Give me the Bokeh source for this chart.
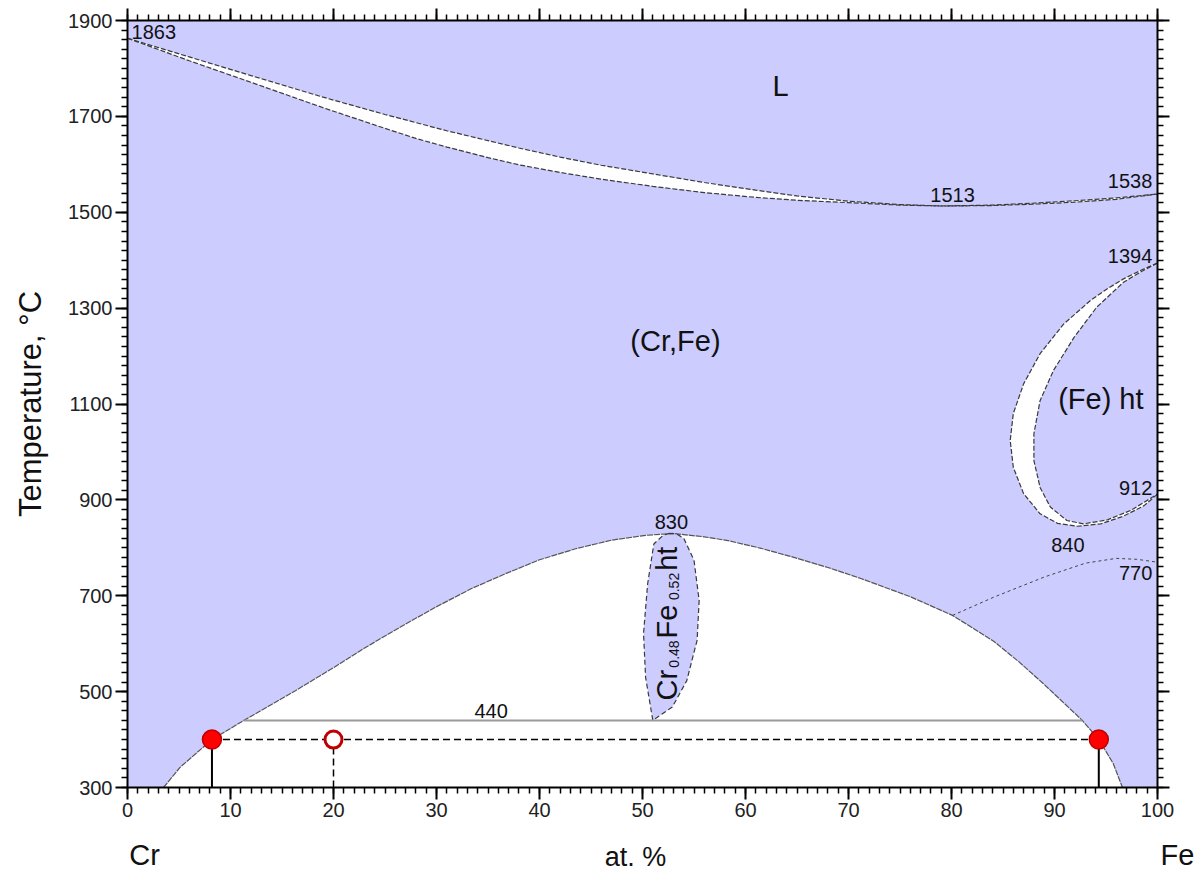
from math import pi

from bokeh.plotting import figure
from bokeh.layouts import column
from bokeh.models import LinearAxis, FixedTicker, Range1d
from bokeh.core.properties import value
from bokeh.embed import file_html
from bokeh.resources import INLINE

# ---------------------------------------------------------------- data
# Liquidus / solidus of the L <-> (Cr,Fe) lens (at.% Fe, deg C)
liq_x = [0, 6, 12, 19, 25, 31, 38, 42, 46, 51, 56, 61, 65, 70, 75, 79, 84, 88, 92, 96, 100]
liq_t = [1863, 1824, 1785, 1740, 1704, 1670, 1634, 1615, 1598, 1580, 1562, 1546, 1534, 1523, 1516, 1513, 1515, 1519, 1524, 1530, 1538]
sol_x = [0, 6, 12, 19, 25, 28, 31, 35, 38, 42, 46, 51, 56, 61, 65, 70, 75, 79, 84, 88, 92, 96, 100]
sol_t = [1863, 1816, 1771, 1718, 1675, 1654, 1636, 1614, 1599, 1583, 1569, 1554, 1541, 1531, 1525, 1520, 1515, 1513, 1514, 1517, 1521, 1527, 1538]

# gamma loop: outer (alpha+gamma / alpha) and inner (gamma) boundaries
gout_x = [100, 98.5, 96.7, 95.1, 93.5, 90.9, 88.6, 87.0, 86.0, 85.7, 86.0, 87.0, 88.6, 90.3, 92.2, 94.5, 96.7, 98.7, 100]
gout_t = [1394, 1380, 1361, 1340, 1316, 1267, 1205, 1142, 1080, 1024, 968, 913, 871, 851, 845, 850, 866, 888, 912]
gin_x = [100, 98.4, 96.7, 94.1, 91.9, 89.9, 88.6, 88.0, 88.0, 88.6, 89.6, 91.2, 92.8, 95.1, 97.4, 100]
gin_t = [1394, 1376, 1354, 1302, 1239, 1170, 1107, 1038, 982, 926, 885, 857, 850, 858, 878, 912]

# low-temperature two-phase dome
dome_x = [3.5, 5.1, 8.2, 11.3, 16.3, 19.7, 23.1, 26.5, 29.9, 33.3, 36.7, 40.0, 43.5, 47.0, 50.3, 52.9,
          56.0, 58.3, 61.5, 64.7, 68.0, 71.2, 76.0, 80.1, 84.1, 86.5, 88.9, 92.7, 94.3, 95.7, 96.6]
dome_t = [300, 342, 400, 440, 502, 546, 592, 635, 676, 714, 746, 775, 798, 816, 826, 830,
          823, 815, 799, 780, 759, 736, 698, 659, 605, 563, 517, 440, 400, 350, 300]

# Cr0.48Fe0.52 ht single-phase field
sig_x = [52.6, 53.3, 54.0, 55.0, 55.5, 55.3, 54.3, 52.9, 51.0, 50.3, 50.1, 50.5, 51.1, 52.0, 52.6]
sig_t = [830, 829, 820, 774, 690, 607, 523, 468, 440, 530, 621, 725, 808, 826, 830]

# Curie line (magnetic transition)
mag_x = [80.1, 84.1, 89.0, 93.0, 96.0, 98.0, 100]
mag_t = [659, 697, 739, 768, 778, 776, 770]

# eutectoid isotherm
eut_x = [11.3, 92.7]
eut_t = [440, 440]

# 400 deg C tie line: phase-boundary ends and alloy composition
tie_t = 400
tie_ends_x = [8.2, 94.3]
alloy_x = [20]

# axis ticks
x_ticks = list(range(0, 101, 10))
x_minor = list(range(0, 101, 1))
y_ticks = list(range(300, 1901, 200))
y_minor = list(range(300, 1901, 20))

# labels
num_text = ["1513", "830", "440", "840"]
num_x = [80.1, 52.8, 35.3, 91.3]
num_t = [1535, 854, 459, 806]

num_r_text = ["1538", "1394", "912", "770"]
num_r_x = [99.5, 99.5, 99.5, 99.5]
num_r_t = [1566, 1409, 925, 747]

phase_text = ["L", "(Cr,Fe)", "(Fe) ht"]
phase_x = [63.4, 53.2, 94.5]
phase_t = [1764, 1232, 1111]

sig_pieces = ["Cr", "0.48", "Fe", "0.52", "ht"]
axis_names = ["Cr", "at. %", "Fe"]

# ---------------------------------------------------------------- style
FONT = "Liberation Sans"
PHASE = "#CCCCFF"
EDGE = "#3a3a3a"
INK = "#111111"

p = figure(width=1197, height=830,
           x_range=Range1d(0, 100), y_range=Range1d(300, 1900),
           output_backend="svg", toolbar_location=None,
           min_border_left=127, min_border_right=40,
           min_border_top=20, min_border_bottom=43)
p.background_fill_color = PHASE
p.border_fill_color = "white"
p.outline_line_color = None
p.xgrid.visible = False
p.ygrid.visible = False
p.frame_align = False


def style_axis(ax, show_labels=True):
    ax.axis_line_width = 2
    ax.axis_line_color = "black"
    ax.major_tick_line_width = 2
    ax.minor_tick_line_width = 1.5
    ax.major_tick_out = 12
    ax.major_tick_in = 0
    ax.minor_tick_out = 6
    ax.minor_tick_in = 0
    ax.major_label_text_font = FONT
    ax.major_label_standoff = 3
    if show_labels:
        ax.major_label_text_font_size = "20px"
        ax.major_label_text_color = "#222222"
    else:
        ax.major_label_text_font_size = "1px"
        ax.major_label_text_color = None
    ax.axis_label_text_font = FONT
    ax.axis_label_text_font_style = "normal"
    ax.axis_label_text_color = INK


p.xaxis.ticker = FixedTicker(ticks=x_ticks, minor_ticks=x_minor)
p.yaxis.ticker = FixedTicker(ticks=y_ticks, minor_ticks=y_minor)
for ax in p.xaxis + p.yaxis:
    style_axis(ax)
p.yaxis.axis_label = "Temperature, °C"
p.yaxis.axis_label_text_font_size = "31px"
p.yaxis.axis_label_standoff = 17

top = LinearAxis(ticker=FixedTicker(ticks=x_ticks, minor_ticks=x_minor))
style_axis(top, show_labels=False)
p.add_layout(top, "above")
right = LinearAxis(ticker=FixedTicker(ticks=y_ticks, minor_ticks=y_minor))
style_axis(right, show_labels=False)
p.add_layout(right, "right")

# ---------------------------------------------------------------- fields
# L + (Cr,Fe) two-phase lens
p.patch(liq_x + sol_x[::-1], liq_t + sol_t[::-1], fill_color="white", line_color=None)
# gamma loop: two-phase crescent, then gamma field inside
p.patch(gout_x, gout_t, fill_color="white", line_color=None)
p.patch(gin_x, gin_t, fill_color=PHASE, line_color=None)
# low-temperature two-phase dome
p.patch(dome_x, dome_t, fill_color="white", line_color=None)
# sigma phase field
p.patch(sig_x, sig_t, fill_color=PHASE, line_color=None)

# boundaries
for bx, bt in [(liq_x, liq_t), (sol_x, sol_t), (gout_x, gout_t), (gin_x, gin_t)]:
    p.line(bx, bt, line_color=EDGE, line_width=1.2, line_dash="5 2")
p.line(dome_x, dome_t, line_color="#555555", line_width=1.2, line_dash="6 1")
p.line(sig_x, sig_t, line_color=EDGE, line_width=1.2, line_dash="5 3")
p.line(mag_x, mag_t, line_color="#444444", line_width=1, line_dash="3 3")
p.line(eut_x, eut_t, line_color="#9a9a9a", line_width=2)

# ---------------------------------------------------------------- tie line at 400 C
p.line(tie_ends_x, [tie_t, tie_t], line_color="black", line_width=1.5, line_dash="7 4")
for tx in tie_ends_x:
    p.line([tx, tx], [300, tie_t], line_color="black", line_width=2)
for axx in alloy_x:
    p.line([axx, axx], [300, tie_t], line_color="black", line_width=1.5, line_dash="7 4")
p.scatter(tie_ends_x, [tie_t] * len(tie_ends_x), size=19, fill_color="#FF0000",
          line_color="#C00000", line_width=1.5)
p.scatter(alloy_x, [tie_t] * len(alloy_x), size=17, fill_color="white",
          line_color="#C00000", line_width=3)

# ---------------------------------------------------------------- labels
p.text(x=[0.39], y=[1877], text=["1863"], text_font=value(FONT), text_font_size="20px",
       text_align="left", text_baseline="middle", text_color=INK)
p.text(x=num_x, y=num_t, text=num_text, text_font=value(FONT), text_font_size="20px",
       text_align="center", text_baseline="middle", text_color=INK)
p.text(x=num_r_x, y=num_r_t, text=num_r_text, text_font=value(FONT), text_font_size="20px",
       text_align="right", text_baseline="middle", text_color=INK)
p.text(x=phase_x, y=phase_t, text=phase_text, text_font=value(FONT), text_font_size="29px",
       text_align="center", text_baseline="middle", text_color=INK)

# rotated sigma-phase formula with subscripts (reads bottom to top)
sig_sizes = ["29px", "14px", "29px", "14px", "29px"]
sig_px = [52.35, 53.05, 52.35, 53.05, 52.35]
sig_pt = [481.6, 550, 611, 691, 752]
for s, fs, sx, st in zip(sig_pieces, sig_sizes, sig_px, sig_pt):
    p.text(x=[sx], y=[st], text=[s], angle=pi / 2, text_font=value(FONT),
           text_font_size=fs, text_align="left", text_baseline="middle",
           text_color=INK)

# ---------------------------------------------------------------- strip with component names
names = figure(width=1197, height=41, x_range=Range1d(0, 1197), y_range=Range1d(0, 41),
               output_backend="svg", toolbar_location=None,
               x_axis_location=None, y_axis_location=None,
               min_border_left=0, min_border_right=0, min_border_top=0, min_border_bottom=0)
names.frame_align = False
names.outline_line_color = None
names.xgrid.visible = False
names.ygrid.visible = False
names.background_fill_color = "white"
names.border_fill_color = "white"
names.text(x=[144, 635, 1177], y=[17, 15, 17], text=axis_names, text_font=value(FONT),
           text_font_size=["29px", "27px", "29px"], text_align="center",
           text_baseline="middle", text_color=INK)

layout = column(p, names, spacing=0)
open("out.html", "w").write(file_html(layout, INLINE))
